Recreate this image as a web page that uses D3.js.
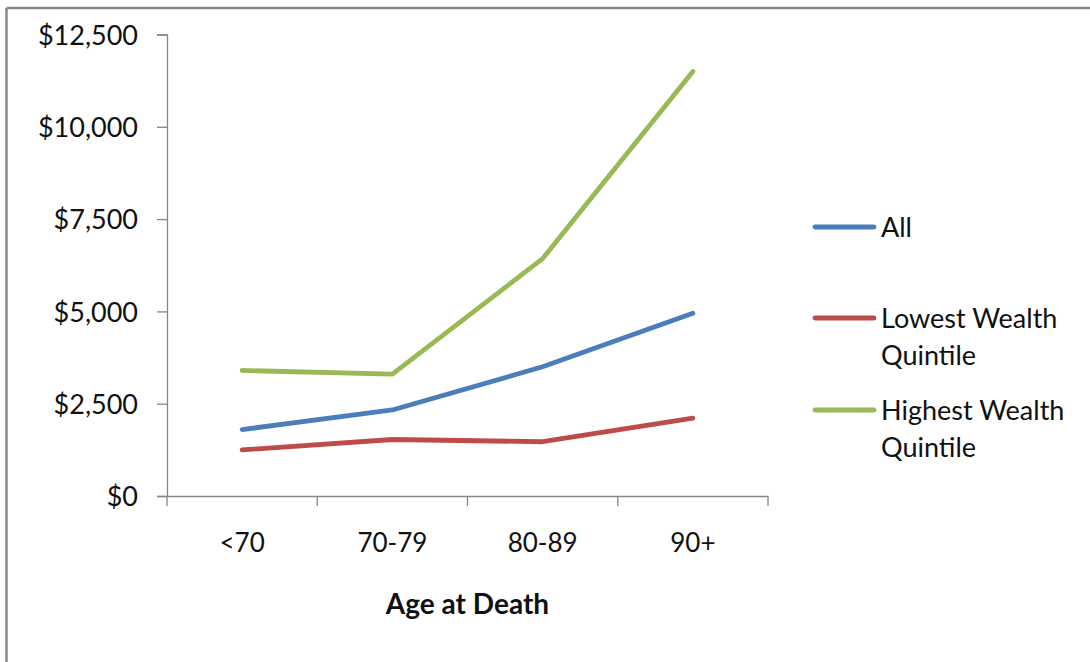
<!DOCTYPE html>
<html>
<head>
<meta charset="utf-8">
<script src="https://cdn.jsdelivr.net/npm/d3@7"></script>
<style>
  body { margin: 0; background: #fff; }
  text { font-family: Lato, "Open Sans", sans-serif; fill: #111; }
</style>
</head>
<body>
<svg id="chart" width="1090" height="662"></svg>
<script>
// data
var categories = ["<70", "70-79", "80-89", "90+"];
var allValues = [1800, 2330, 3500, 4950];
var lowestValues = [1250, 1530, 1470, 2110];
var highestValues = [3400, 3300, 6430, 11500];
var yTicks = [0, 2500, 5000, 7500, 10000, 12500];
var seriesNames = ["All", "Lowest Wealth|Quintile", "Highest Wealth|Quintile"];
var seriesColors = ["#4a7ebb", "#be4b48", "#98b954"];

var svg = d3.select("#chart");

// frame (only top and left edges visible)
svg.append("line").attr("x1", 6.5).attr("y1", 8).attr("x2", 1090).attr("y2", 8)
  .attr("stroke", "#888").attr("stroke-width", 2.5);
svg.append("line").attr("x1", 6.5).attr("y1", 8).attr("x2", 6.5).attr("y2", 662)
  .attr("stroke", "#888").attr("stroke-width", 2.5);

var plotLeft = 167, plotRight = 768, plotTop = 34.5, plotBottom = 496;
var fontSize = 26;

var x = d3.scaleBand().domain(categories).range([plotLeft, plotRight]).padding(0);
var y = d3.scaleLinear().domain([0, 12500]).range([plotBottom, plotTop]);

var fmt = function(d){ return "$" + d3.format(",")(d); };

// y axis
var yAxis = svg.append("g")
  .attr("transform", "translate(" + plotLeft + ",0)")
  .call(d3.axisLeft(y).tickValues(yTicks).tickFormat(fmt).tickSize(10).tickPadding(19));
yAxis.select(".domain").attr("stroke", "#868686").attr("stroke-width", 1.3);
yAxis.selectAll(".tick line").attr("stroke", "#868686").attr("stroke-width", 1.3);
yAxis.selectAll("text").attr("font-size", 27).attr("fill", "#111")
  .attr("font-family", "Lato, sans-serif").attr("dy", "0.36em");

// x axis: ticks on band boundaries
var xAxis = svg.append("g")
  .attr("transform", "translate(0," + plotBottom + ")")
  .call(d3.axisBottom(x).tickSize(0).tickPadding(38));
xAxis.select(".domain").attr("stroke", "#868686").attr("stroke-width", 1.3);
xAxis.selectAll("text").attr("font-size", fontSize).attr("fill", "#111")
  .attr("font-family", "Lato, sans-serif");
var bounds = categories.map(function(c){ return x(c); }).concat([x(categories[3]) + x.bandwidth()]);
xAxis.selectAll(".bound").data(bounds).enter().append("line")
  .attr("x1", function(d){ return d; }).attr("x2", function(d){ return d; })
  .attr("y1", 0).attr("y2", 10)
  .attr("stroke", "#868686").attr("stroke-width", 1.3);

// axis title
svg.append("text").attr("x", (plotLeft + plotRight) / 2).attr("y", 614)
  .attr("text-anchor", "middle").attr("font-size", 28).attr("font-weight", "bold")
  .text("Age at Death");

// lines
var series = [allValues, lowestValues, highestValues];
var line = d3.line()
  .x(function(d, i){ return x(categories[i]) + x.bandwidth() / 2; })
  .y(function(d){ return y(d); });

[2, 0, 1].forEach(function(k){
  svg.append("path").datum(series[k])
    .attr("d", line)
    .attr("fill", "none")
    .attr("stroke", seriesColors[k])
    .attr("stroke-width", 4.8)
    .attr("stroke-linecap", "round")
    .attr("stroke-linejoin", "round");
});

// legend
var legendY = [227, 318, 410];
seriesNames.forEach(function(name, k){
  var g = svg.append("g").attr("transform", "translate(0," + legendY[k] + ")");
  g.append("line").attr("x1", 815).attr("x2", 874).attr("y1", 0).attr("y2", 0)
    .attr("stroke", seriesColors[k]).attr("stroke-width", 4.8).attr("stroke-linecap", "round");
  var t = g.append("text").attr("x", 881).attr("y", 0).attr("font-size", 27);
  name.split("|").forEach(function(part, j){
    t.append("tspan").attr("x", 881).attr("dy", j === 0 ? "0.36em" : 37).text(part);
  });
});
</script>
</body>
</html>
